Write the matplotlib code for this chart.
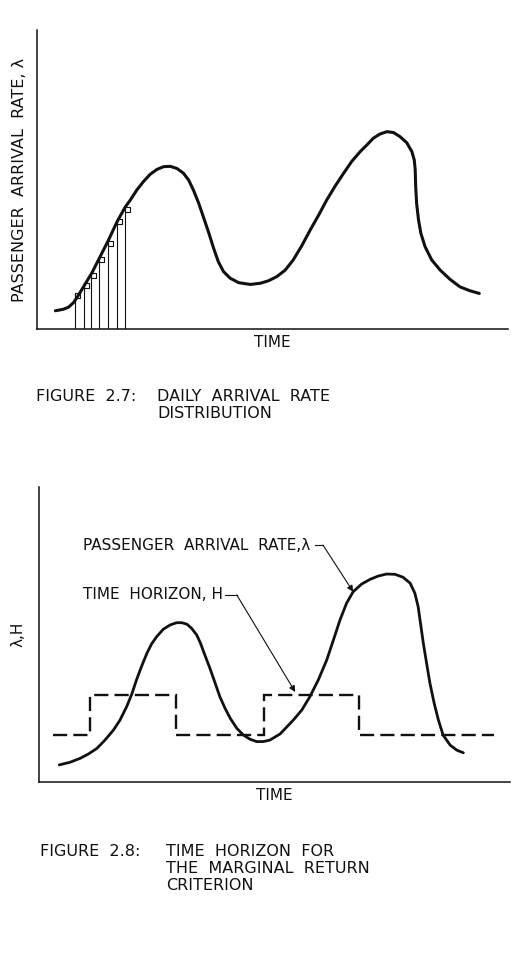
"""Two sketch charts: daily arrival rate and time horizon for marginal return."""
import numpy as np
import matplotlib
matplotlib.use("Agg")
import matplotlib.pyplot as plt
from matplotlib.path import Path

# ---- figure 2.7: daily arrival rate (time 0-100, rate 0-100)
rate_time = [3.9, 5.6, 6.7, 7.8, 8.8, 9.9, 11.7, 13.4, 15.2, 17.0, 18.7, 19.8,
             21.2, 22.6, 24.0, 25.5, 26.9, 28.3, 29.7, 31.1, 32.2, 33.2, 34.3,
             35.3, 36.4, 37.5, 38.5, 39.6, 41.0, 42.8, 45.3, 47.4, 49.1, 50.9,
             52.7, 54.4, 56.2, 58.0, 59.8, 61.5, 63.3, 65.1, 66.8, 68.6, 70.0,
             71.4, 72.8, 74.3, 75.7, 77.1, 78.5, 79.6, 80.1, 80.3, 80.4, 80.6,
             81.0, 81.5, 82.4, 83.8, 85.6, 87.7, 89.8, 91.9, 93.9]
rate_vals = [6.1, 6.6, 7.3, 8.9, 11.3, 14.2, 18.9, 24.2, 29.8, 35.9, 40.7, 43.1,
             46.5, 49.3, 51.7, 53.4, 54.3, 54.4, 53.7, 52.1, 49.8, 46.5, 42.2,
             37.6, 32.5, 27.0, 22.5, 19.2, 17.0, 15.5, 14.9, 15.3, 16.1, 17.5,
             19.7, 23.1, 27.8, 33.1, 38.1, 43.1, 47.8, 52.1, 56.0, 59.3, 61.5,
             63.8, 65.2, 66.0, 65.7, 64.3, 62.3, 59.3, 56.5, 53.2, 47.6, 42.0,
             36.5, 32.0, 27.5, 23.1, 19.7, 16.6, 14.1, 12.8, 11.9]
bar_time = [8.1, 10.0, 11.5, 13.1, 15.0, 17.0, 18.6]
bar_tops = [12.1, 15.5, 18.8, 24.0, 29.5, 36.7, 40.7]

# ---- figure 2.8: arrival rate and time horizon
lam_time = [4.3, 6.6, 8.7, 10.5, 12.3, 14.0, 15.8, 17.2, 18.6, 19.7, 20.7, 21.8,
            22.9, 23.9, 25.0, 26.4, 27.8, 29.2, 30.3, 31.4, 32.4, 33.5, 34.3,
            35.2, 36.3, 37.4, 38.4, 39.5, 40.6, 42.0, 43.4, 44.8, 46.2, 47.6,
            49.0, 51.2, 54.0, 55.8, 57.5, 59.3, 61.1, 62.5, 63.9, 65.3, 66.7,
            68.5, 70.3, 72.0, 73.8, 75.6, 77.3, 78.8, 79.8, 80.5, 81.0, 81.6,
            82.3, 83.0, 83.9, 84.8, 85.8, 87.3, 88.7, 90.1]
lam_vals = [5.8, 6.7, 8.0, 9.5, 11.4, 14.2, 17.6, 21.0, 25.5, 29.8, 34.6, 39.3,
            43.6, 46.8, 49.3, 51.8, 53.2, 54.0, 54.0, 53.5, 52.1, 49.8, 47.0,
            43.1, 38.5, 33.5, 28.9, 25.0, 21.6, 18.2, 15.9, 14.5, 13.7, 13.7,
            14.2, 16.3, 21.0, 24.4, 28.9, 34.6, 41.4, 48.1, 54.9, 60.6, 64.5,
            67.1, 68.7, 69.8, 70.5, 70.4, 69.4, 67.4, 64.0, 59.4, 53.8, 47.0,
            40.2, 33.5, 26.7, 21.0, 15.9, 12.5, 10.8, 9.9]
h_edges = [3.0, 10.8, 29.0, 47.8, 67.9, 96.7]
h_levels = [15.9, 29.6, 15.9, 29.6, 15.9]

INK = "#111111"
FONT = "DejaVu Sans"
FS = 11

fig = plt.figure(figsize=(5.13, 9.55), dpi=100)


def bare_axes(rect):
    ax = fig.add_axes(rect)
    ax.set_xlim(0, 100)
    ax.set_ylim(0, 100)
    for side in ("top", "right"):
        ax.spines[side].set_visible(False)
    for side in ("left", "bottom"):
        ax.spines[side].set_linewidth(1.1)
        ax.spines[side].set_color(INK)
    ax.set_xticks([])
    ax.set_yticks([])
    return ax


# top panel
ax1 = bare_axes([37 / 513, 1 - 329 / 955, 471 / 513, 299 / 955])
ax1.plot(rate_time, rate_vals, color=INK, lw=2.2, solid_joinstyle="round",
         solid_capstyle="round")
ax1.vlines(bar_time, 0, bar_tops, color=INK, lw=0.8)
corner = Path([(0, 0), (1, 0), (1, -1), (0, -1), (0, 0)])
ax1.plot(bar_time, bar_tops, ls="none", marker=corner, markersize=7,
         markerfacecolor="none", markeredgecolor=INK, markeredgewidth=0.8)
ax1.set_xlabel("TIME", fontsize=FS, family=FONT, color=INK, labelpad=4)
ax1.set_ylabel("PASSENGER  ARRIVAL  RATE, λ", fontsize=FS + 0.5, family=FONT,
               color=INK, labelpad=7)

# bottom panel
ax2 = bare_axes([39 / 513, 1 - 782 / 955, 471 / 513, 295 / 955])
ax2.plot(lam_time, lam_vals, color=INK, lw=2.0, solid_joinstyle="round",
         solid_capstyle="round")
ax2.stairs(h_levels, h_edges, baseline=None, color=INK, lw=1.7,
           linestyle=(0, (6, 2.6)))
ax2.set_xlabel("TIME", fontsize=FS, family=FONT, color=INK, labelpad=4)
ax2.set_ylabel("λ,H", fontsize=FS, family=FONT, color=INK, labelpad=10)

ax2.text(9.3, 80.3, "PASSENGER  ARRIVAL  RATE,λ", fontsize=FS, family=FONT,
         color=INK, va="center")
ax2.plot([58.6, 60.3], [80.3, 80.3], color=INK, lw=0.8)
ax2.annotate("", xy=(66.7, 64.5), xytext=(60.3, 80.3),
             arrowprops=dict(arrowstyle="-|>", lw=0.8, color=INK,
                             mutation_scale=9, shrinkA=0, shrinkB=0))
ax2.text(9.3, 63.4, "TIME  HORIZON, H", fontsize=FS, family=FONT,
         color=INK, va="center")
ax2.plot([39.5, 42.0], [63.4, 63.4], color=INK, lw=0.8)
ax2.annotate("", xy=(54.4, 30.5), xytext=(42.0, 63.4),
             arrowprops=dict(arrowstyle="-|>", lw=0.8, color=INK,
                             mutation_scale=9, shrinkA=0, shrinkB=0))


# captions
def caption(x_px, y_px, s):
    fig.text(x_px / 513, 1 - y_px / 955, s, fontsize=FS + 0.5, family=FONT,
             color=INK, va="center", ha="left")


caption(36, 396, "FIGURE  2.7:")
caption(157, 396, "DAILY  ARRIVAL  RATE")
caption(157, 413, "DISTRIBUTION")
caption(40, 851, "FIGURE  2.8:")
caption(166, 851, "TIME  HORIZON  FOR")
caption(166, 868, "THE  MARGINAL  RETURN")
caption(166, 885, "CRITERION")

fig.savefig("out.png", dpi=100)
